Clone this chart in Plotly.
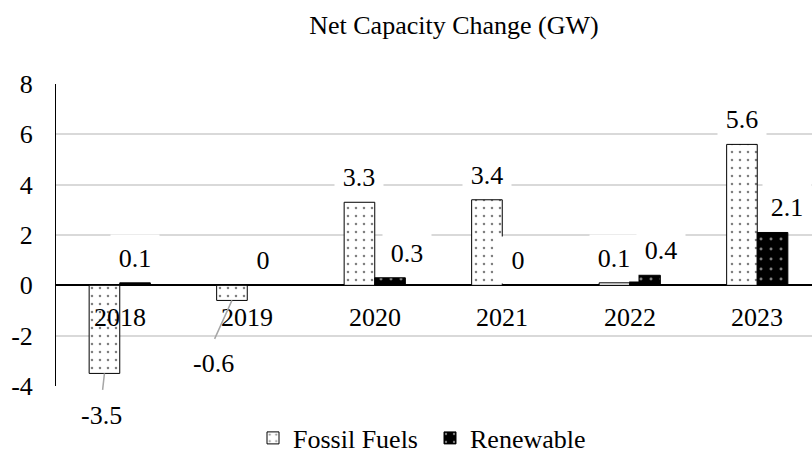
import plotly.graph_objects as go

# ---- data ----
years = ["2018", "2019", "2020", "2021", "2022", "2023"]
fossil = [-3.5, -0.6, 3.3, 3.4, 0.1, 5.6]
renewable = [0.1, 0, 0.3, 0, 0.4, 2.1]
ytick_vals = [-4, -2, 0, 2, 4, 6, 8]
ytick_text = ["-4", "-2", "0", "2", "4", "6", "8"]
series_names = ["Fossil Fuels", "Renewable"]
title_text = "Net Capacity Change (GW)"

# ---- style ----
FONT = "Liberation Serif, Times New Roman, serif"
FS = 26
W, H = 812, 454
ML, MR, MT, MB = 56, 0, 84, 68
BARGAP = 0.52
bar_w = (1 - BARGAP) / 2
cat_px = 127.5
plot_w = W - ML - MR
x_range = [-0.5, -0.5 + plot_w / cat_px]

# label nudges (pixels) keyed by (series index, category index)
label_nudge = {(1, 2): 17, (1, 4): 16, (1, 5): 14}
# negative label placement: (text dx, text dy, leader tail dx, leader tail dy)
neg_layout = {(0, 0): (-3, 42, -2, 18), (0, 1): (-18, 63, -18, 40)}

fig = go.Figure()
fig.add_bar(
    x=years, y=fossil, name=series_names[0],
    marker=dict(color="white", line=dict(color="black", width=1),
                pattern=dict(shape=".", fgcolor="black", bgcolor="white",
                             size=8, solidity=0.08)),
)
fig.add_bar(
    x=years, y=renewable, name=series_names[1],
    marker=dict(color="black", line=dict(color="black", width=1),
                pattern=dict(shape=".", fgcolor="white", bgcolor="black",
                             size=10, solidity=0.07)),
)

annotations = []
# category labels sitting just under the zero line
for i, yr in enumerate(years):
    annotations.append(dict(x=i, y=0, xref="x", yref="y", text=yr,
                            showarrow=False, yshift=-32.6, yanchor="middle",
                            font=dict(family=FONT, size=FS, color="black")))

# data labels
for s, vals in enumerate([fossil, renewable]):
    for i, v in enumerate(vals):
        xc = i + (-bar_w / 2 if s == 0 else bar_w / 2)
        txt = f"{v:g}"
        if v < 0:
            tdx, tdy, ldx, ldy = neg_layout[(s, i)]
            annotations.append(dict(x=xc, y=v, xref="x", yref="y", text=txt,
                                    showarrow=False, xshift=tdx, yshift=-tdy,
                                    yanchor="middle",
                                    font=dict(family=FONT, size=FS, color="black")))
            annotations.append(dict(x=xc, y=v, xref="x", yref="y", text="",
                                    showarrow=True, arrowhead=0, arrowwidth=1.5,
                                    arrowcolor="#a6a6a6", ax=ldx, ay=ldy,
                                    standoff=0))
        else:
            annotations.append(dict(x=xc, y=v, xref="x", yref="y", text=txt,
                                    showarrow=False,
                                    xshift=label_nudge.get((s, i), 0), yshift=25,
                                    yanchor="middle", bgcolor="white",
                                    width=48, height=46, borderpad=0,
                                    font=dict(family=FONT, size=FS, color="black")))

fig.update_layout(
    width=W, height=H,
    margin=dict(l=ML, r=MR, t=MT, b=MB, pad=0),
    paper_bgcolor="white", plot_bgcolor="white",
    barmode="group", bargap=BARGAP, bargroupgap=0,
    font=dict(family=FONT, size=FS, color="black"),
    title=dict(text=title_text, x=454 / W, xanchor="center", xref="container",
               y=1 - 25 / H, yanchor="middle", yref="container",
               font=dict(family=FONT, size=FS, color="black")),
    showlegend=True,
    legend=dict(orientation="h", xref="container", yref="container",
                x=253 / W, xanchor="left", y=16 / H, yanchor="middle",
                font=dict(family=FONT, size=FS, color="black"),
                bgcolor="rgba(0,0,0,0)", borderwidth=0, itemwidth=30,
                entrywidth=132, traceorder="normal"),
    xaxis=dict(range=x_range, showticklabels=False, showgrid=False,
               zeroline=False, showline=False, ticks=""),
    yaxis=dict(range=[-4, 8], tickvals=ytick_vals, ticktext=ytick_text,
               showgrid=True, gridcolor="#d9d9d9", gridwidth=1.5,
               zeroline=True, zerolinecolor="black", zerolinewidth=1.5,
               showline=True, linecolor="black", linewidth=1,
               ticks="", ticklabelstandoff=17,
               tickfont=dict(family=FONT, size=FS, color="black")),
    annotations=annotations,
)

fig.write_html(
    "out.html",
    config={"displayModeBar": False},
    post_script="document.body.style.margin='0';document.body.style.overflow='hidden';",
)
